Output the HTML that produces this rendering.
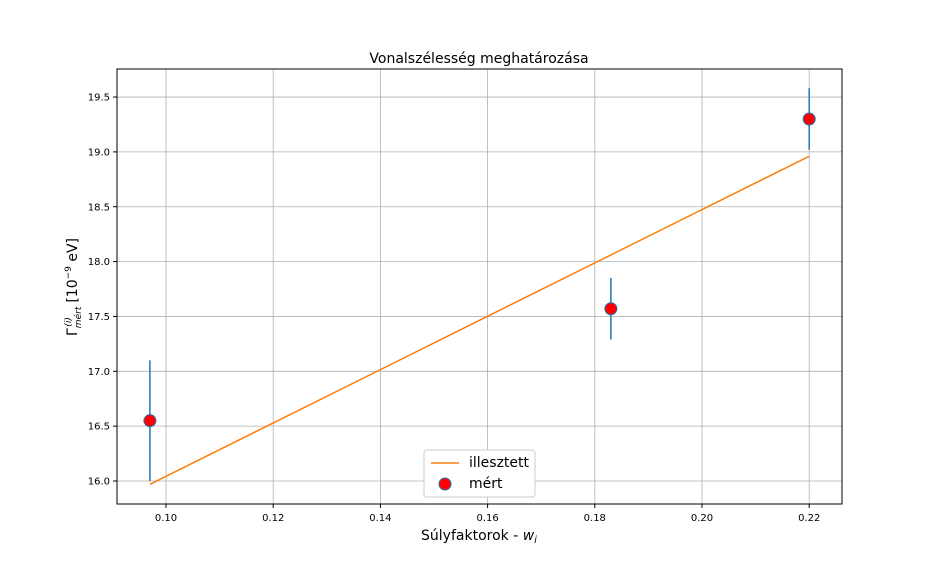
<!DOCTYPE html>
<html><head><meta charset="utf-8"><style>
body{margin:0;background:#fff;width:936px;height:576px;overflow:hidden}
svg text{font-family:"DejaVu Sans","Liberation Sans",sans-serif}
</style></head><body>
<svg id="c" width="936" height="576" xmlns="http://www.w3.org/2000/svg"></svg>
<script>
const xTicks=[0.10,0.12,0.14,0.16,0.18,0.20,0.22];
const yTicks=[16.0,16.5,17.0,17.5,18.0,18.5,19.0,19.5];
const xVals=[0.097,0.183,0.220];
const yVals=[16.55,17.57,19.30];
const yErr=[0.55,0.28,0.28];
const fitX=[0.097,0.220];
const fitY=[15.97,18.96];
const L=117,R=842,T=69,B=504;
const sx=v=>166+(v-0.10)*5360;
const sy=v=>481-(v-16.0)*109.7;
const svg=document.getElementById('c');
const NS='http://www.w3.org/2000/svg';
function mk(t,a,p){const e=document.createElementNS(NS,t);for(const k in a)e.setAttribute(k,a[k]);(p||svg).appendChild(e);return e;}
xTicks.forEach(v=>{const x=sx(v);
 let g=mk('line',{x1:x,x2:x,y1:T,y2:B,stroke:'#b0b0b0','stroke-width':0.8});
 
 mk('line',{x1:x,x2:x,y1:B,y2:B+4,stroke:'#000'});
 let t=mk('text',{x:x,y:B+17,'font-size':10,'text-anchor':'middle'});t.textContent=v.toFixed(2);
 });
yTicks.forEach(v=>{const y=sy(v);
 let g=mk('line',{x1:L,x2:R,y1:y,y2:y,stroke:'#b0b0b0','stroke-width':0.8});
 
 mk('line',{x1:L-4,x2:L,y1:y,y2:y,stroke:'#000'});
 let t=mk('text',{x:L-7,y:y+3.5,'font-size':10,'text-anchor':'end'});t.textContent=v.toFixed(1);
 });
let fl=mk('line',{x1:sx(fitX[0]),y1:sy(fitY[0]),x2:sx(fitX[1]),y2:sy(fitY[1]),stroke:'#ff7f0e','stroke-width':1.5});

xVals.forEach((v,i)=>{const x=sx(v);
 let e=mk('line',{x1:x,x2:x,y1:sy(yVals[i]-yErr[i]),y2:sy(yVals[i]+yErr[i]),stroke:'#1f77b4','stroke-width':1.5});
 
 let c=mk('circle',{cx:x,cy:sy(yVals[i]),r:6,fill:'#ff0000',stroke:'#1f77b4','stroke-width':1});
 });
let fr=mk('rect',{x:L,y:T,width:R-L,height:B-T,fill:'none',stroke:'#000','stroke-width':1});

</script>
<svg style="position:absolute;left:0;top:0" width="936" height="576" xmlns="http://www.w3.org/2000/svg">
<text x="479" y="63" font-size="14" text-anchor="middle" font-family="DejaVu Sans,Liberation Sans,sans-serif">Vonalszélesség meghatározása</text>
<text x="479" y="540" font-size="14" text-anchor="middle" font-family="DejaVu Sans,Liberation Sans,sans-serif">Súlyfaktorok - <tspan font-style="italic">w</tspan><tspan font-size="10" dy="3" font-style="italic">i</tspan></text>
<g transform="translate(77,287) rotate(-90)">
<text x="0" y="0" font-size="14" text-anchor="middle" font-family="DejaVu Sans,Liberation Sans,sans-serif">Γ<tspan font-size="9" dy="4" font-style="italic">mért</tspan><tspan font-size="9" dx="-20" dy="-10" font-style="italic">(i)</tspan><tspan dx="10" dy="6"> [10</tspan><tspan font-size="9" dy="-6">−9</tspan><tspan dy="6"> eV]</tspan></text>
</g>
<g>
<rect x="424" y="450" width="111" height="47" rx="3" fill="#fff" stroke="#ccc"/>
<line x1="431" y1="463" x2="459" y2="463" stroke="#ff7f0e" stroke-width="1.5"/>
<text x="469" y="467" font-size="14" font-family="DejaVu Sans,Liberation Sans,sans-serif">illesztett</text>
<circle cx="445" cy="484" r="6" fill="#ff0000" stroke="#1f77b4"/>
<text x="469" y="488" font-size="14" font-family="DejaVu Sans,Liberation Sans,sans-serif">mért</text>
</g>
</svg>
</body></html>
